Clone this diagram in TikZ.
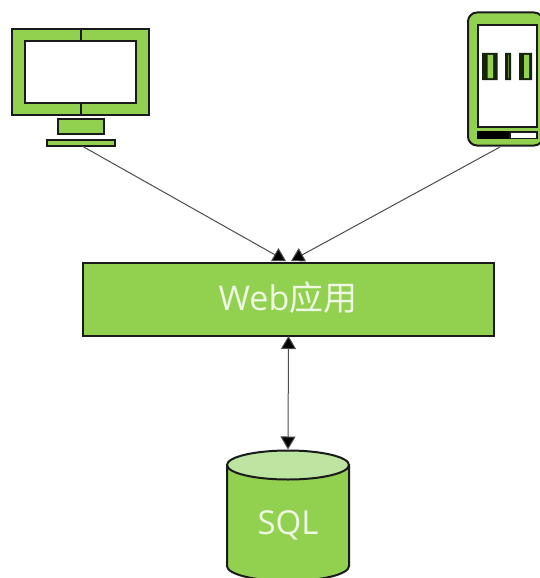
\documentclass[tikz,border=0pt]{standalone}
\usepackage{fontspec}
\setmainfont{Open Sans}
\newfontfamily\cjk{Noto Sans CJK SC}
\usetikzlibrary{arrows.meta}
\definecolor{gr}{HTML}{92D050}
\definecolor{grl}{HTML}{BDE5A1}
\definecolor{txtc}{HTML}{EEF8E4}
\definecolor{ink}{HTML}{1A1A1A}
\definecolor{barc}{HTML}{16240E}
\tikzset{
  gbox/.style={draw=ink,fill=gr,line width=2pt,inner sep=0pt,minimum width=0pt},
  wbox/.style={draw=ink,fill=white,line width=2pt},
  lnk/.style={draw=black!70,line width=1pt,-{Triangle[length=13pt,width=15pt,fill=black]}},
  lnkb/.style={draw=black!70,line width=1pt,{Triangle[length=13pt,width=15pt,fill=black]}-{Triangle[length=13pt,width=15pt,fill=black]}},
  lab/.style={text=txtc,inner sep=0pt}
}
\begin{document}
\begin{tikzpicture}[x=1pt,y=-1pt]
\useasboundingbox (0,0) rectangle (540,578);
\clip (0,0) rectangle (540,578);
% desktop
\node[gbox,minimum width=137pt,minimum height=86pt,anchor=north west] (desk) at (11,28) {};
\node[wbox,minimum width=111pt,minimum height=62pt,anchor=north west] (screen) at (24,40) {};
\draw[ink,line width=2pt] (desk.north) -- (screen.north) (screen.south) -- (desk.south);
\node[gbox,minimum width=46pt,minimum height=15pt,anchor=north west] (stand) at (56.5,118) {};
\node[gbox,minimum width=68pt,minimum height=6pt,anchor=north west] (foot) at (45.5,139) {};
% phone
\node[gbox,rounded corners=9pt,minimum width=75pt,minimum height=133pt,anchor=north west] (phone) at (467,11.5) {};
\node[wbox,minimum width=59pt,minimum height=102pt,anchor=north west] (pscreen) at (477,24) {};
\fill[black] (477,131) rectangle (510,139);
\draw[ink,line width=1.4pt,fill=white] (510,132) rectangle (537,138.5);
\fill[barc] (482,53) rectangle (497.5,80) (505,53) rectangle (511,80) (519,53) rectangle (532,80);
\fill[gr] (487.5,55) rectangle (493,78) (524,55) rectangle (529,78);
\fill[gr!60!barc] (507.5,55) rectangle (508.5,78);
% web
\node[gbox,minimum width=411pt,minimum height=72.5pt,anchor=north west] (web) at (82,262) {};
\node[lab,font=\fontsize{34}{36}\selectfont] (webt) at (288,298) {Web{\cjk 应用}};
% cylinder
\path[gbox] (227,465) -- (227,566) arc[x radius=61pt,y radius=15pt,start angle=180,end angle=360,y=1pt] -- (349,465) -- cycle;
\draw[ink,line width=2pt,fill=grl] (288,465) ellipse[x radius=61pt,y radius=14.5pt];
\coordinate (dbtop) at (288,449.5);
\node[lab,font=\fontsize{33}{36}\selectfont] (sql) at (288,525) {SQL};
% connectors
\coordinate (d1) at (82,146);
\coordinate (p1) at (500,147);
\coordinate (w1) at (286,261);
\coordinate (w2) at (291,261);
\coordinate (w3) at (288.5,336);
\draw[lnk] (d1) -- (w1);
\draw[lnk] (p1) -- (w2);
\draw[lnkb] (w3) -- (dbtop);
\end{tikzpicture}
\end{document}
